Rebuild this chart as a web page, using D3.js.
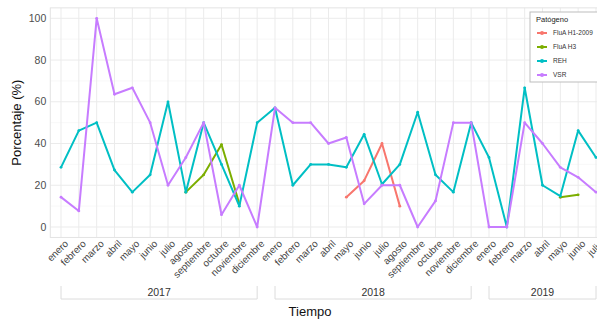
<!DOCTYPE html>
<html lang="es">
<head>
	<meta charset="UTF-8">
	<title>Patógenos por mes</title>
	<script src="https://cdn.jsdelivr.net/npm/d3@7"></script>
	<style>
		body { margin: 0; background: #fff; }
		text { font-family: "Liberation Sans", Arial, sans-serif; }
	</style>
</head>
<body>
	<svg id="viz"></svg>
	<script>
		// Data ---
		const months = ["enero", "febrero", "marzo", "abril", "mayo", "junio", "julio",
			"agosto", "septiembre", "octubre", "noviembre", "diciembre"];
		const years = ["2017", "2018", "2019"];
		const monthsPerYear = [12, 12, 7];
		const pathogens = ["FluA H1-2009", "FluA H3", "REH", "VSR"];
		const colors = ["#F8766D", "#7CAE00", "#00BFC4", "#C77CFF"];

		// percentages, one per period (null = no data)
		const fluH1 = [null, null, null, null, null, null, null, null, null, null, null, null,
			null, null, null, null, 14.3, 22.2, 40, 10, null, null, null, null,
			null, null, null, null, 14.3, null, null];
		const fluH3 = [null, null, null, null, null, null, null, 16.7, 25, 39.5, 11.1, null,
			null, null, null, null, null, null, null, null, null, null, null, null,
			null, null, null, null, 14.3, 15.4, null];
		const reh = [28.6, 46.2, 50, 27.3, 16.7, 25, 60, 16.7, 50, 30, 10, 50,
			57.1, 20, 30, 30, 28.6, 44.4, 20.5, 30, 55, 25, 16.7, 50,
			33.3, 0, 66.7, 20, 14.8, 46.2, 33.3];
		const vsr = [14.3, 7.7, 100, 63.6, 66.7, 50, 20, 33.3, 50, 5.9, 20, 0,
			57.1, 50, 50, 40, 42.9, 11.1, 20, 20, 0, 12.5, 50, 50,
			0, 0, 50, 40, 28.6, 23.8, 16.7];
		const yTicks = [0, 20, 40, 60, 80, 100];

		// periods built from years x months
		const periods = [];
		years.forEach((yr, j) => {
			for (let m = 0; m < monthsPerYear[j]; m++) periods.push({ key: yr + "-" + m, year: yr, month: months[m] });
		});
		const series = [fluH1, fluH3, reh, vsr].map((vals, k) => ({
			name: pathogens[k], color: colors[k],
			values: vals.map((v, i) => ({ key: periods[i].key, v }))
		}));

		// Dimensions ---
		const width = 597, height = 319;
		const svg = d3.select("#viz").attr("width", width).attr("height", height);

		const x = d3.scalePoint().domain(periods.map(p => p.key)).range([61, 596]);
		const step = x.step();
		const y = d3.scaleLinear().domain([0, 100]).range([227, 18.3]);
		const panel = { x0: x(periods[0].key) - 0.6 * step, x1: x(periods[periods.length - 1].key) + 0.6 * step,
			y0: y(105), y1: y(-5) };

		// Panel + grid ---
		const grid = svg.append("g");
		grid.selectAll("line.minor")
			.data(d3.range(10, 100, 20))
			.join("line")
			.attr("x1", panel.x0).attr("x2", panel.x1)
			.attr("y1", d => y(d)).attr("y2", d => y(d))
			.attr("stroke", "#f4f4f4").attr("stroke-width", 0.6);
		grid.selectAll("line.hmajor")
			.data(yTicks)
			.join("line")
			.attr("x1", panel.x0).attr("x2", panel.x1)
			.attr("y1", d => y(d)).attr("y2", d => y(d))
			.attr("stroke", "#ebebeb").attr("stroke-width", 1);
		grid.selectAll("line.vmajor")
			.data(periods)
			.join("line")
			.attr("x1", d => x(d.key)).attr("x2", d => x(d.key))
			.attr("y1", panel.y0).attr("y2", panel.y1)
			.attr("stroke", "#ebebeb").attr("stroke-width", 1);
		svg.append("rect")
			.attr("x", panel.x0).attr("y", panel.y0)
			.attr("width", panel.x1 - panel.x0).attr("height", panel.y1 - panel.y0)
			.attr("fill", "none").attr("stroke", "#e3e3e3").attr("stroke-width", 1);

		// Y axis ---
		svg.append("g").selectAll("text")
			.data(yTicks)
			.join("text")
			.attr("x", panel.x0 - 4).attr("y", d => y(d))
			.attr("dy", "0.35em")
			.attr("text-anchor", "end")
			.attr("fill", "#4d4d4d")
			.style("font-size", "10.5px")
			.text(d => d);
		svg.append("text")
			.attr("transform", `translate(21, ${(panel.y0 + panel.y1) / 2}) rotate(-90)`)
			.attr("text-anchor", "middle")
			.attr("fill", "#111")
			.style("font-size", "13px")
			.text("Porcentaje (%)");

		// X axis: months + year brackets ---
		svg.append("g").selectAll("text")
			.data(periods)
			.join("text")
			.attr("transform", d => `translate(${x(d.key) + 3}, ${panel.y1 + 2}) rotate(-45)`)
			.attr("dy", "0.7em")
			.attr("text-anchor", "end")
			.attr("fill", "#444")
			.style("font-size", "9.8px")
			.text(d => d.month);

		const yearGroups = d3.groups(periods, d => d.year);
		const brackets = svg.append("g").selectAll("g")
			.data(yearGroups)
			.join("g");
		brackets.append("path")
			.attr("d", ([, ps]) => {
				const a = x(ps[0].key), b = x(ps[ps.length - 1].key);
				return `M${a},286V299H${b}V286`;
			})
			.attr("fill", "none").attr("stroke", "#dcdcdc").attr("stroke-width", 1);
		brackets.append("text")
			.attr("x", ([, ps]) => (x(ps[0].key) + x(ps[ps.length - 1].key)) / 2)
			.attr("y", 296)
			.attr("text-anchor", "middle")
			.attr("fill", "#333")
			.style("font-size", "10.5px")
			.text(([yr]) => yr);

		svg.append("text")
			.attr("x", 310).attr("y", 316)
			.attr("text-anchor", "middle")
			.attr("fill", "#111")
			.style("font-size", "13px")
			.text("Tiempo");

		// Lines ---
		const line = d3.line()
			.defined(d => d.v != null)
			.x(d => x(d.key)).y(d => y(d.v));
		const sg = svg.append("g").selectAll("g")
			.data(series)
			.join("g");
		sg.append("path")
			.attr("d", d => line(d.values))
			.attr("fill", "none")
			.attr("stroke", d => d.color)
			.attr("stroke-width", 2)
			.attr("stroke-linejoin", "round");
		sg.selectAll("circle")
			.data(d => d.values.filter(p => p.v != null).map(p => ({ ...p, color: d.color })))
			.join("circle")
			.attr("cx", d => x(d.key)).attr("cy", d => y(d.v))
			.attr("r", 1.4)
			.attr("fill", d => d.color);

		// Legend ---
		const legend = svg.append("g").attr("transform", "translate(530, 12)");
		legend.append("rect")
			.attr("width", 80).attr("height", 70)
			.attr("fill", "#fff").attr("stroke", "#bdbdbd").attr("stroke-width", 1);
		legend.append("text")
			.attr("x", 6).attr("y", 10)
			.attr("fill", "#222")
			.style("font-size", "7.5px")
			.text("Patógeno");
		const items = legend.selectAll("g.item")
			.data(series)
			.join("g")
			.attr("transform", (d, i) => `translate(0, ${21 + i * 14})`);
		items.append("line")
			.attr("x1", 7).attr("x2", 17)
			.attr("stroke", d => d.color).attr("stroke-width", 2);
		items.append("circle")
			.attr("cx", 12).attr("r", 2)
			.attr("fill", d => d.color);
		items.append("text")
			.attr("x", 23).attr("dy", "0.35em")
			.attr("fill", "#333")
			.style("font-size", "6.5px")
			.text(d => d.name);
	</script>
</body>
</html>
